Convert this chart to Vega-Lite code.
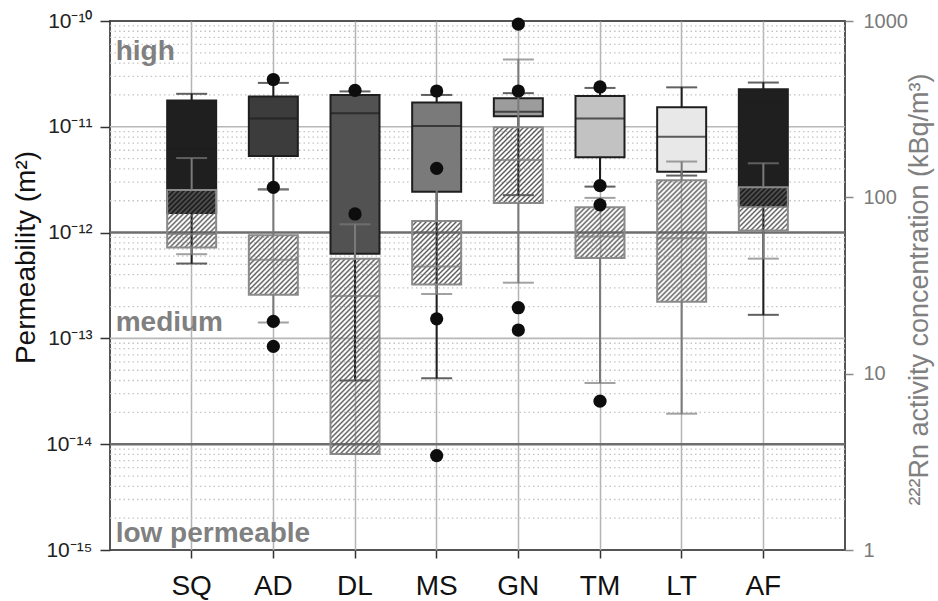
{
  "$schema": "https://vega.github.io/schema/vega-lite/v6.json",
  "width": 735,
  "height": 529,
  "autosize": {"type": "none"},
  "padding": {"left": 110, "top": 21, "right": 93, "bottom": 51},
  "background": "white",
  "config": {
    "font": "Liberation Sans",
    "view": {"stroke": "#555555", "strokeWidth": 2},
    "axisX": {
      "bandPosition": 0.5, "grid": true, "gridColor": "#b4b4b4", "gridWidth": 1.5,
      "domain": false, "tickColor": "#333333", "tickSize": 8, "tickWidth": 1.5,
      "labelFontSize": 28, "labelColor": "#111111", "labelAngle": 0, "labelPadding": 14, "title": null
    }
  },
  "params": [
    {"name": "hatch", "value": [
      {"offset": 0, "color": "#5a5a5a"}, {"offset": 0.008, "color": "rgba(90,90,90,0)"}, {"offset": 0.012, "color": "rgba(90,90,90,0)"},
      {"offset": 0.02, "color": "#5a5a5a"}, {"offset": 0.028, "color": "rgba(90,90,90,0)"}, {"offset": 0.032, "color": "rgba(90,90,90,0)"},
      {"offset": 0.04, "color": "#5a5a5a"}, {"offset": 0.048, "color": "rgba(90,90,90,0)"}, {"offset": 0.052, "color": "rgba(90,90,90,0)"},
      {"offset": 0.06, "color": "#5a5a5a"}, {"offset": 0.068, "color": "rgba(90,90,90,0)"}, {"offset": 0.072, "color": "rgba(90,90,90,0)"},
      {"offset": 0.08, "color": "#5a5a5a"}, {"offset": 0.088, "color": "rgba(90,90,90,0)"}, {"offset": 0.092, "color": "rgba(90,90,90,0)"},
      {"offset": 0.1, "color": "#5a5a5a"}, {"offset": 0.108, "color": "rgba(90,90,90,0)"}, {"offset": 0.112, "color": "rgba(90,90,90,0)"},
      {"offset": 0.12, "color": "#5a5a5a"}, {"offset": 0.128, "color": "rgba(90,90,90,0)"}, {"offset": 0.132, "color": "rgba(90,90,90,0)"},
      {"offset": 0.14, "color": "#5a5a5a"}, {"offset": 0.148, "color": "rgba(90,90,90,0)"}, {"offset": 0.152, "color": "rgba(90,90,90,0)"},
      {"offset": 0.16, "color": "#5a5a5a"}, {"offset": 0.168, "color": "rgba(90,90,90,0)"}, {"offset": 0.172, "color": "rgba(90,90,90,0)"},
      {"offset": 0.18, "color": "#5a5a5a"}, {"offset": 0.188, "color": "rgba(90,90,90,0)"}, {"offset": 0.192, "color": "rgba(90,90,90,0)"},
      {"offset": 0.2, "color": "#5a5a5a"}, {"offset": 0.208, "color": "rgba(90,90,90,0)"}, {"offset": 0.212, "color": "rgba(90,90,90,0)"},
      {"offset": 0.22, "color": "#5a5a5a"}, {"offset": 0.228, "color": "rgba(90,90,90,0)"}, {"offset": 0.232, "color": "rgba(90,90,90,0)"},
      {"offset": 0.24, "color": "#5a5a5a"}, {"offset": 0.248, "color": "rgba(90,90,90,0)"}, {"offset": 0.252, "color": "rgba(90,90,90,0)"},
      {"offset": 0.26, "color": "#5a5a5a"}, {"offset": 0.268, "color": "rgba(90,90,90,0)"}, {"offset": 0.272, "color": "rgba(90,90,90,0)"},
      {"offset": 0.28, "color": "#5a5a5a"}, {"offset": 0.288, "color": "rgba(90,90,90,0)"}, {"offset": 0.292, "color": "rgba(90,90,90,0)"},
      {"offset": 0.3, "color": "#5a5a5a"}, {"offset": 0.308, "color": "rgba(90,90,90,0)"}, {"offset": 0.312, "color": "rgba(90,90,90,0)"},
      {"offset": 0.32, "color": "#5a5a5a"}, {"offset": 0.328, "color": "rgba(90,90,90,0)"}, {"offset": 0.332, "color": "rgba(90,90,90,0)"},
      {"offset": 0.34, "color": "#5a5a5a"}, {"offset": 0.348, "color": "rgba(90,90,90,0)"}, {"offset": 0.352, "color": "rgba(90,90,90,0)"},
      {"offset": 0.36, "color": "#5a5a5a"}, {"offset": 0.368, "color": "rgba(90,90,90,0)"}, {"offset": 0.372, "color": "rgba(90,90,90,0)"},
      {"offset": 0.38, "color": "#5a5a5a"}, {"offset": 0.388, "color": "rgba(90,90,90,0)"}, {"offset": 0.392, "color": "rgba(90,90,90,0)"},
      {"offset": 0.4, "color": "#5a5a5a"}, {"offset": 0.408, "color": "rgba(90,90,90,0)"}, {"offset": 0.412, "color": "rgba(90,90,90,0)"},
      {"offset": 0.42, "color": "#5a5a5a"}, {"offset": 0.428, "color": "rgba(90,90,90,0)"}, {"offset": 0.432, "color": "rgba(90,90,90,0)"},
      {"offset": 0.44, "color": "#5a5a5a"}, {"offset": 0.448, "color": "rgba(90,90,90,0)"}, {"offset": 0.452, "color": "rgba(90,90,90,0)"},
      {"offset": 0.46, "color": "#5a5a5a"}, {"offset": 0.468, "color": "rgba(90,90,90,0)"}, {"offset": 0.472, "color": "rgba(90,90,90,0)"},
      {"offset": 0.48, "color": "#5a5a5a"}, {"offset": 0.488, "color": "rgba(90,90,90,0)"}, {"offset": 0.492, "color": "rgba(90,90,90,0)"},
      {"offset": 0.5, "color": "#5a5a5a"}, {"offset": 0.508, "color": "rgba(90,90,90,0)"}, {"offset": 0.512, "color": "rgba(90,90,90,0)"},
      {"offset": 0.52, "color": "#5a5a5a"}, {"offset": 0.528, "color": "rgba(90,90,90,0)"}, {"offset": 0.532, "color": "rgba(90,90,90,0)"},
      {"offset": 0.54, "color": "#5a5a5a"}, {"offset": 0.548, "color": "rgba(90,90,90,0)"}, {"offset": 0.552, "color": "rgba(90,90,90,0)"},
      {"offset": 0.56, "color": "#5a5a5a"}, {"offset": 0.568, "color": "rgba(90,90,90,0)"}, {"offset": 0.572, "color": "rgba(90,90,90,0)"},
      {"offset": 0.58, "color": "#5a5a5a"}, {"offset": 0.588, "color": "rgba(90,90,90,0)"}, {"offset": 0.592, "color": "rgba(90,90,90,0)"},
      {"offset": 0.6, "color": "#5a5a5a"}, {"offset": 0.608, "color": "rgba(90,90,90,0)"}, {"offset": 0.612, "color": "rgba(90,90,90,0)"},
      {"offset": 0.62, "color": "#5a5a5a"}, {"offset": 0.628, "color": "rgba(90,90,90,0)"}, {"offset": 0.632, "color": "rgba(90,90,90,0)"},
      {"offset": 0.64, "color": "#5a5a5a"}, {"offset": 0.648, "color": "rgba(90,90,90,0)"}, {"offset": 0.652, "color": "rgba(90,90,90,0)"},
      {"offset": 0.66, "color": "#5a5a5a"}, {"offset": 0.668, "color": "rgba(90,90,90,0)"}, {"offset": 0.672, "color": "rgba(90,90,90,0)"},
      {"offset": 0.68, "color": "#5a5a5a"}, {"offset": 0.688, "color": "rgba(90,90,90,0)"}, {"offset": 0.692, "color": "rgba(90,90,90,0)"},
      {"offset": 0.7, "color": "#5a5a5a"}, {"offset": 0.708, "color": "rgba(90,90,90,0)"}, {"offset": 0.712, "color": "rgba(90,90,90,0)"},
      {"offset": 0.72, "color": "#5a5a5a"}, {"offset": 0.728, "color": "rgba(90,90,90,0)"}, {"offset": 0.732, "color": "rgba(90,90,90,0)"},
      {"offset": 0.74, "color": "#5a5a5a"}, {"offset": 0.748, "color": "rgba(90,90,90,0)"}, {"offset": 0.752, "color": "rgba(90,90,90,0)"},
      {"offset": 0.76, "color": "#5a5a5a"}, {"offset": 0.768, "color": "rgba(90,90,90,0)"}, {"offset": 0.772, "color": "rgba(90,90,90,0)"},
      {"offset": 0.78, "color": "#5a5a5a"}, {"offset": 0.788, "color": "rgba(90,90,90,0)"}, {"offset": 0.792, "color": "rgba(90,90,90,0)"},
      {"offset": 0.8, "color": "#5a5a5a"}, {"offset": 0.808, "color": "rgba(90,90,90,0)"}, {"offset": 0.812, "color": "rgba(90,90,90,0)"},
      {"offset": 0.82, "color": "#5a5a5a"}, {"offset": 0.828, "color": "rgba(90,90,90,0)"}, {"offset": 0.832, "color": "rgba(90,90,90,0)"},
      {"offset": 0.84, "color": "#5a5a5a"}, {"offset": 0.848, "color": "rgba(90,90,90,0)"}, {"offset": 0.852, "color": "rgba(90,90,90,0)"},
      {"offset": 0.86, "color": "#5a5a5a"}, {"offset": 0.868, "color": "rgba(90,90,90,0)"}, {"offset": 0.872, "color": "rgba(90,90,90,0)"},
      {"offset": 0.88, "color": "#5a5a5a"}, {"offset": 0.888, "color": "rgba(90,90,90,0)"}, {"offset": 0.892, "color": "rgba(90,90,90,0)"},
      {"offset": 0.9, "color": "#5a5a5a"}, {"offset": 0.908, "color": "rgba(90,90,90,0)"}, {"offset": 0.912, "color": "rgba(90,90,90,0)"},
      {"offset": 0.92, "color": "#5a5a5a"}, {"offset": 0.928, "color": "rgba(90,90,90,0)"}, {"offset": 0.932, "color": "rgba(90,90,90,0)"},
      {"offset": 0.94, "color": "#5a5a5a"}, {"offset": 0.948, "color": "rgba(90,90,90,0)"}, {"offset": 0.952, "color": "rgba(90,90,90,0)"},
      {"offset": 0.96, "color": "#5a5a5a"}, {"offset": 0.968, "color": "rgba(90,90,90,0)"}, {"offset": 0.972, "color": "rgba(90,90,90,0)"},
      {"offset": 0.98, "color": "#5a5a5a"}, {"offset": 0.988, "color": "rgba(90,90,90,0)"}, {"offset": 1, "color": "rgba(90,90,90,0)"}
    ]}
  ],
  "datasets": {
    "perm": [
      {"cat": "SQ", "lo": 5.1e-13, "q1": 1.53e-12, "med": 6.2e-12, "q3": 1.77e-11, "hi": 2.05e-11},
      {"cat": "AD", "lo": 2.56e-12, "q1": 5.3e-12, "med": 1.2e-11, "q3": 1.93e-11, "hi": 2.6e-11},
      {"cat": "DL", "lo": 4.0e-14, "q1": 6.3e-13, "med": 1.34e-11, "q3": 2.0e-11, "hi": 2.16e-11},
      {"cat": "MS", "lo": 4.2e-14, "q1": 2.43e-12, "med": 1.02e-11, "q3": 1.70e-11, "hi": 2.0e-11},
      {"cat": "GN", "lo": 2.26e-12, "q1": 1.26e-11, "med": 1.39e-11, "q3": 1.86e-11, "hi": 2.08e-11},
      {"cat": "TM", "lo": 2.72e-12, "q1": 5.15e-12, "med": 1.2e-11, "q3": 1.95e-11, "hi": 2.33e-11},
      {"cat": "LT", "lo": 3.46e-12, "q1": 3.76e-12, "med": 8.05e-12, "q3": 1.53e-11, "hi": 2.36e-11},
      {"cat": "AF", "lo": 1.67e-13, "q1": 1.80e-12, "med": 1.66e-11, "q3": 2.26e-11, "hi": 2.62e-11}
    ],
    "rn": [
      {"cat": "SQ", "lo": 47.6, "q1": 52, "med": 62, "q3": 110, "hi": 167},
      {"cat": "AD", "lo": 19.5, "q1": 28, "med": 44.3, "q3": 60.9, "hi": 111},
      {"cat": "DL", "lo": 3.5, "q1": 3.5, "med": 27.6, "q3": 44.9, "hi": 70.3},
      {"cat": "MS", "lo": 28.3, "q1": 32, "med": 40.5, "q3": 73.5, "hi": 131.5},
      {"cat": "GN", "lo": 32.8, "q1": 93, "med": 163, "q3": 250, "hi": 605},
      {"cat": "TM", "lo": 8.85, "q1": 45.3, "med": 60, "q3": 87.9, "hi": 99.3},
      {"cat": "LT", "lo": 5.93, "q1": 25.6, "med": 58.7, "q3": 124.8, "hi": 159.6},
      {"cat": "AF", "lo": 44.9, "q1": 64.9, "med": 88, "q3": 114, "hi": 156}
    ],
    "out": [
      {"cat": "AD", "k": 2.8e-11}, {"cat": "AD", "k": 2.68e-12}, {"cat": "AD", "k": 1.45e-13}, {"cat": "AD", "k": 8.4e-14},
      {"cat": "DL", "k": 2.21e-11}, {"cat": "DL", "k": 1.5e-12},
      {"cat": "MS", "k": 2.18e-11}, {"cat": "MS", "k": 4.05e-12}, {"cat": "MS", "k": 1.53e-13}, {"cat": "MS", "k": 7.8e-15},
      {"cat": "GN", "k": 9.35e-11}, {"cat": "GN", "k": 2.18e-11}, {"cat": "GN", "k": 1.95e-13}, {"cat": "GN", "k": 1.2e-13},
      {"cat": "TM", "k": 2.38e-11}, {"cat": "TM", "k": 2.78e-12}, {"cat": "TM", "k": 1.83e-12}, {"cat": "TM", "k": 2.55e-14}
    ],
    "minor": [
      {"v": 2e-15}, {"v": 3e-15}, {"v": 4e-15}, {"v": 5e-15}, {"v": 6e-15}, {"v": 7e-15}, {"v": 8e-15}, {"v": 9e-15},
      {"v": 2e-14}, {"v": 3e-14}, {"v": 4e-14}, {"v": 5e-14}, {"v": 6e-14}, {"v": 7e-14}, {"v": 8e-14}, {"v": 9e-14},
      {"v": 2e-13}, {"v": 3e-13}, {"v": 4e-13}, {"v": 5e-13}, {"v": 6e-13}, {"v": 7e-13}, {"v": 8e-13}, {"v": 9e-13},
      {"v": 2e-12}, {"v": 3e-12}, {"v": 4e-12}, {"v": 5e-12}, {"v": 6e-12}, {"v": 7e-12}, {"v": 8e-12}, {"v": 9e-12},
      {"v": 2e-11}, {"v": 3e-11}, {"v": 4e-11}, {"v": 5e-11}, {"v": 6e-11}, {"v": 7e-11}, {"v": 8e-11}, {"v": 9e-11}
    ],
    "classes": [
      {"label": "high", "k": 4.3e-11},
      {"label": "medium", "k": 1.17e-13},
      {"label": "low permeable", "k": 1.19e-15}
    ]
  },
  "layer": [
    {
      "data": {"name": "minor"},
      "mark": {"type": "rule", "color": "#c4c4c4", "strokeWidth": 1.3, "strokeDash": [1.5, 3]},
      "encoding": {
        "y": {
          "field": "v", "type": "quantitative",
          "scale": {"type": "log", "domain": [1e-15, 1e-10], "nice": false},
          "axis": {
            "orient": "left", "values": [1e-15, 1e-14, 1e-13, 1e-12, 1e-11, 1e-10],
            "labelExpr": "['10⁻¹⁵','10⁻¹⁴','10⁻¹³','10⁻¹²','10⁻¹¹','10⁻¹⁰'][round(log(datum.value)/LN10)+15]",
            "grid": false, "domain": false, "tickColor": "#333333", "tickSize": 10, "tickWidth": 1.5,
            "labelFontSize": 21, "labelColor": "#222222", "labelPadding": 8,
            "title": "Permeability (m²)", "titleFontSize": 28, "titleFontWeight": "normal", "titleColor": "#111111",
            "titleAngle": 270, "titleX": -84, "titleY": 236, "titleAlign": "center", "titleBaseline": "middle"
          }
        }
      }
    },
    {
      "data": {"values": [{"v": 1e-11}, {"v": 1e-13}]},
      "mark": {"type": "rule", "color": "#b8b8b8", "strokeWidth": 1.6},
      "encoding": {"y": {"field": "v", "type": "quantitative", "scale": {"type": "log", "domain": [1e-15, 1e-10], "nice": false}, "axis": null}}
    },
    {
      "data": {"values": [{"v": 1e-12}, {"v": 1e-14}]},
      "mark": {"type": "rule", "color": "#6e6e6e", "strokeWidth": 2.5},
      "encoding": {"y": {"field": "v", "type": "quantitative", "scale": {"type": "log", "domain": [1e-15, 1e-10], "nice": false}, "axis": null}}
    },
    {
      "data": {"name": "classes"},
      "mark": {"type": "text", "align": "left", "baseline": "alphabetic", "dx": -76, "fontSize": 28, "fontWeight": "bold", "color": "#808080"},
      "encoding": {
        "x": {"datum": "SQ", "type": "nominal", "scale": {"type": "band", "domain": ["SQ", "AD", "DL", "MS", "GN", "TM", "LT", "AF"], "paddingInner": 0, "paddingOuter": 0.5}},
        "y": {"field": "k", "type": "quantitative", "scale": {"type": "log", "domain": [1e-15, 1e-10], "nice": false}, "axis": null},
        "text": {"field": "label"}
      }
    },
    {
      "data": {"name": "perm"},
      "mark": {"type": "bar", "width": {"band": 0.6}, "stroke": "#1e1e1e", "strokeWidth": 2},
      "encoding": {
        "x": {"field": "cat", "type": "nominal", "scale": {"type": "band", "domain": ["SQ", "AD", "DL", "MS", "GN", "TM", "LT", "AF"], "paddingInner": 0, "paddingOuter": 0.5}},
        "y": {"field": "q1", "type": "quantitative", "scale": {"type": "log", "domain": [1e-15, 1e-10], "nice": false}, "axis": null},
        "y2": {"field": "q3"},
        "fill": {
          "field": "cat", "type": "nominal", "legend": null,
          "scale": {"domain": ["SQ", "AD", "DL", "MS", "GN", "TM", "LT", "AF"], "range": ["#1f1f1f", "#3c3c3c", "#525252", "#7a7a7a", "#9c9c9c", "#c2c2c2", "#e8e8e8", "#1f1f1f"]}
        }
      }
    },
    {
      "data": {"name": "perm"},
      "mark": {"type": "tick", "size": 49, "thickness": 2, "color": "#1e1e1e"},
      "encoding": {
        "x": {"field": "cat", "type": "nominal", "scale": {"type": "band", "domain": ["SQ", "AD", "DL", "MS", "GN", "TM", "LT", "AF"], "paddingInner": 0, "paddingOuter": 0.5}},
        "y": {"field": "med", "type": "quantitative", "scale": {"type": "log", "domain": [1e-15, 1e-10], "nice": false}, "axis": null}
      }
    },
    {
      "data": {"name": "perm"},
      "mark": {"type": "rule", "color": "#1e1e1e", "strokeWidth": 2},
      "encoding": {
        "x": {"field": "cat", "type": "nominal", "scale": {"type": "band", "domain": ["SQ", "AD", "DL", "MS", "GN", "TM", "LT", "AF"], "paddingInner": 0, "paddingOuter": 0.5}},
        "y": {"field": "lo", "type": "quantitative", "scale": {"type": "log", "domain": [1e-15, 1e-10], "nice": false}, "axis": null},
        "y2": {"field": "q1"}
      }
    },
    {
      "data": {"name": "perm"},
      "mark": {"type": "rule", "color": "#1e1e1e", "strokeWidth": 2},
      "encoding": {
        "x": {"field": "cat", "type": "nominal", "scale": {"type": "band", "domain": ["SQ", "AD", "DL", "MS", "GN", "TM", "LT", "AF"], "paddingInner": 0, "paddingOuter": 0.5}},
        "y": {"field": "q3", "type": "quantitative", "scale": {"type": "log", "domain": [1e-15, 1e-10], "nice": false}, "axis": null},
        "y2": {"field": "hi"}
      }
    },
    {
      "data": {"name": "perm"},
      "mark": {"type": "tick", "size": 31, "thickness": 2, "color": "#1e1e1e"},
      "encoding": {
        "x": {"field": "cat", "type": "nominal", "scale": {"type": "band", "domain": ["SQ", "AD", "DL", "MS", "GN", "TM", "LT", "AF"], "paddingInner": 0, "paddingOuter": 0.5}},
        "y": {"field": "lo", "type": "quantitative", "scale": {"type": "log", "domain": [1e-15, 1e-10], "nice": false}, "axis": null}
      }
    },
    {
      "data": {"name": "perm"},
      "mark": {"type": "tick", "size": 31, "thickness": 2, "color": "#1e1e1e"},
      "encoding": {
        "x": {"field": "cat", "type": "nominal", "scale": {"type": "band", "domain": ["SQ", "AD", "DL", "MS", "GN", "TM", "LT", "AF"], "paddingInner": 0, "paddingOuter": 0.5}},
        "y": {"field": "hi", "type": "quantitative", "scale": {"type": "log", "domain": [1e-15, 1e-10], "nice": false}, "axis": null}
      }
    },
    {
      "data": {"name": "rn"},
      "transform": [{"filter": "datum.cat === 'SQ'"}],
      "mark": {"type": "bar", "width": {"band": 0.6}, "stroke": "#8a8a8a", "strokeWidth": 2, "fill": {"expr": "{gradient: 'linear', x1: 0, y1: 0, x2: 2.1551, y2: 2.5201, stops: hatch}"}},
      "encoding": {
        "x": {"field": "cat", "type": "nominal", "scale": {"type": "band", "domain": ["SQ", "AD", "DL", "MS", "GN", "TM", "LT", "AF"], "paddingInner": 0, "paddingOuter": 0.5}},
        "y": {
          "field": "q1", "type": "quantitative",
          "scale": {"type": "log", "domain": [1, 1000], "nice": false},
          "axis": {
            "orient": "right", "values": [1, 10, 100, 1000], "format": "d",
            "grid": false, "domain": false, "tickColor": "#8a8a8a", "tickSize": 8, "tickWidth": 1.5,
            "labelFontSize": 20, "labelColor": "#7a7a7a", "labelPadding": 10,
            "title": "²²²Rn activity concentration (kBq/m³)", "titleFontSize": 27, "titleFontWeight": "normal", "titleColor": "#808080",
            "titleAngle": 270, "titleX": 74, "titleY": 268, "titleAlign": "center", "titleBaseline": "middle"
          }
        },
        "y2": {"field": "q3"}
      }
    },
    {
      "data": {"name": "rn"},
      "transform": [{"filter": "datum.cat === 'AD'"}],
      "mark": {"type": "bar", "width": {"band": 0.6}, "stroke": "#8a8a8a", "strokeWidth": 2, "fill": {"expr": "{gradient: 'linear', x1: 0, y1: 0, x2: 2.0618, y2: 2.5036, stops: hatch}"}},
      "encoding": {
        "x": {"field": "cat", "type": "nominal", "scale": {"type": "band", "domain": ["SQ", "AD", "DL", "MS", "GN", "TM", "LT", "AF"], "paddingInner": 0, "paddingOuter": 0.5}},
        "y": {"field": "q1", "type": "quantitative", "scale": {"type": "log", "domain": [1, 1000], "nice": false}, "axis": null},
        "y2": {"field": "q3"}
      }
    },
    {
      "data": {"name": "rn"},
      "transform": [{"filter": "datum.cat === 'DL'"}],
      "mark": {"type": "bar", "width": {"band": 0.6}, "stroke": "#8a8a8a", "strokeWidth": 2, "fill": {"expr": "{gradient: 'linear', x1: 0, y1: 0, x2: 0.30186, y2: 1.20374, stops: hatch}"}},
      "encoding": {
        "x": {"field": "cat", "type": "nominal", "scale": {"type": "band", "domain": ["SQ", "AD", "DL", "MS", "GN", "TM", "LT", "AF"], "paddingInner": 0, "paddingOuter": 0.5}},
        "y": {"field": "q1", "type": "quantitative", "scale": {"type": "log", "domain": [1, 1000], "nice": false}, "axis": null},
        "y2": {"field": "q3"}
      }
    },
    {
      "data": {"name": "rn"},
      "transform": [{"filter": "datum.cat === 'MS'"}],
      "mark": {"type": "bar", "width": {"band": 0.6}, "stroke": "#8a8a8a", "strokeWidth": 2, "fill": {"expr": "{gradient: 'linear', x1: 0, y1: 0, x2: 1.8966, y2: 2.4656, stops: hatch}"}},
      "encoding": {
        "x": {"field": "cat", "type": "nominal", "scale": {"type": "band", "domain": ["SQ", "AD", "DL", "MS", "GN", "TM", "LT", "AF"], "paddingInner": 0, "paddingOuter": 0.5}},
        "y": {"field": "q1", "type": "quantitative", "scale": {"type": "log", "domain": [1, 1000], "nice": false}, "axis": null},
        "y2": {"field": "q3"}
      }
    },
    {
      "data": {"name": "rn"},
      "transform": [{"filter": "datum.cat === 'GN'"}],
      "mark": {"type": "bar", "width": {"band": 0.6}, "stroke": "#8a8a8a", "strokeWidth": 2, "fill": {"expr": "{gradient: 'linear', x1: 0, y1: 0, x2: 1.5065, y2: 2.3274, stops: hatch}"}},
      "encoding": {
        "x": {"field": "cat", "type": "nominal", "scale": {"type": "band", "domain": ["SQ", "AD", "DL", "MS", "GN", "TM", "LT", "AF"], "paddingInner": 0, "paddingOuter": 0.5}},
        "y": {"field": "q1", "type": "quantitative", "scale": {"type": "log", "domain": [1, 1000], "nice": false}, "axis": null},
        "y2": {"field": "q3"}
      }
    },
    {
      "data": {"name": "rn"},
      "transform": [{"filter": "datum.cat === 'TM'"}],
      "mark": {"type": "bar", "width": {"band": 0.6}, "stroke": "#8a8a8a", "strokeWidth": 2, "fill": {"expr": "{gradient: 'linear', x1: 0, y1: 0, x2: 2.4591, y2: 2.5494, stops: hatch}"}},
      "encoding": {
        "x": {"field": "cat", "type": "nominal", "scale": {"type": "band", "domain": ["SQ", "AD", "DL", "MS", "GN", "TM", "LT", "AF"], "paddingInner": 0, "paddingOuter": 0.5}},
        "y": {"field": "q1", "type": "quantitative", "scale": {"type": "log", "domain": [1, 1000], "nice": false}, "axis": null},
        "y2": {"field": "q3"}
      }
    },
    {
      "data": {"name": "rn"},
      "transform": [{"filter": "datum.cat === 'LT'"}],
      "mark": {"type": "bar", "width": {"band": 0.6}, "stroke": "#8a8a8a", "strokeWidth": 2, "fill": {"expr": "{gradient: 'linear', x1: 0, y1: 0, x2: 0.71576, y2: 1.7719, stops: hatch}"}},
      "encoding": {
        "x": {"field": "cat", "type": "nominal", "scale": {"type": "band", "domain": ["SQ", "AD", "DL", "MS", "GN", "TM", "LT", "AF"], "paddingInner": 0, "paddingOuter": 0.5}},
        "y": {"field": "q1", "type": "quantitative", "scale": {"type": "log", "domain": [1, 1000], "nice": false}, "axis": null},
        "y2": {"field": "q3"}
      }
    },
    {
      "data": {"name": "rn"},
      "transform": [{"filter": "datum.cat === 'AF'"}],
      "mark": {"type": "bar", "width": {"band": 0.6}, "stroke": "#8a8a8a", "strokeWidth": 2, "fill": {"expr": "{gradient: 'linear', x1: 0, y1: 0, x2: 2.8765, y2: 2.5302, stops: hatch}"}},
      "encoding": {
        "x": {"field": "cat", "type": "nominal", "scale": {"type": "band", "domain": ["SQ", "AD", "DL", "MS", "GN", "TM", "LT", "AF"], "paddingInner": 0, "paddingOuter": 0.5}},
        "y": {"field": "q1", "type": "quantitative", "scale": {"type": "log", "domain": [1, 1000], "nice": false}, "axis": null},
        "y2": {"field": "q3"}
      }
    },
    {
      "data": {"name": "rn"},
      "mark": {"type": "tick", "size": 49, "thickness": 2, "color": "#7a7a7a"},
      "encoding": {
        "x": {"field": "cat", "type": "nominal", "scale": {"type": "band", "domain": ["SQ", "AD", "DL", "MS", "GN", "TM", "LT", "AF"], "paddingInner": 0, "paddingOuter": 0.5}},
        "y": {"field": "med", "type": "quantitative", "scale": {"type": "log", "domain": [1, 1000], "nice": false}, "axis": null}
      }
    },
    {
      "data": {"name": "rn"},
      "mark": {"type": "rule", "color": "#7a7a7a", "strokeWidth": 2},
      "encoding": {
        "x": {"field": "cat", "type": "nominal", "scale": {"type": "band", "domain": ["SQ", "AD", "DL", "MS", "GN", "TM", "LT", "AF"], "paddingInner": 0, "paddingOuter": 0.5}},
        "y": {"field": "lo", "type": "quantitative", "scale": {"type": "log", "domain": [1, 1000], "nice": false}, "axis": null},
        "y2": {"field": "q1"}
      }
    },
    {
      "data": {"name": "rn"},
      "mark": {"type": "rule", "color": "#7a7a7a", "strokeWidth": 2},
      "encoding": {
        "x": {"field": "cat", "type": "nominal", "scale": {"type": "band", "domain": ["SQ", "AD", "DL", "MS", "GN", "TM", "LT", "AF"], "paddingInner": 0, "paddingOuter": 0.5}},
        "y": {"field": "q3", "type": "quantitative", "scale": {"type": "log", "domain": [1, 1000], "nice": false}, "axis": null},
        "y2": {"field": "hi"}
      }
    },
    {
      "data": {"name": "rn"},
      "mark": {"type": "tick", "size": 31, "thickness": 2, "color": "#7a7a7a"},
      "encoding": {
        "x": {"field": "cat", "type": "nominal", "scale": {"type": "band", "domain": ["SQ", "AD", "DL", "MS", "GN", "TM", "LT", "AF"], "paddingInner": 0, "paddingOuter": 0.5}},
        "y": {"field": "lo", "type": "quantitative", "scale": {"type": "log", "domain": [1, 1000], "nice": false}, "axis": null}
      }
    },
    {
      "data": {"name": "rn"},
      "mark": {"type": "tick", "size": 31, "thickness": 2, "color": "#7a7a7a"},
      "encoding": {
        "x": {"field": "cat", "type": "nominal", "scale": {"type": "band", "domain": ["SQ", "AD", "DL", "MS", "GN", "TM", "LT", "AF"], "paddingInner": 0, "paddingOuter": 0.5}},
        "y": {"field": "hi", "type": "quantitative", "scale": {"type": "log", "domain": [1, 1000], "nice": false}, "axis": null}
      }
    },
    {
      "data": {"name": "out"},
      "mark": {"type": "point", "filled": true, "size": 175, "color": "#0d0d0d", "opacity": 1},
      "encoding": {
        "x": {"field": "cat", "type": "nominal", "scale": {"type": "band", "domain": ["SQ", "AD", "DL", "MS", "GN", "TM", "LT", "AF"], "paddingInner": 0, "paddingOuter": 0.5}},
        "y": {"field": "k", "type": "quantitative", "scale": {"type": "log", "domain": [1e-15, 1e-10], "nice": false}, "axis": null}
      }
    }
  ],
  "resolve": {"scale": {"y": "independent"}, "axis": {"y": "independent"}}
}
